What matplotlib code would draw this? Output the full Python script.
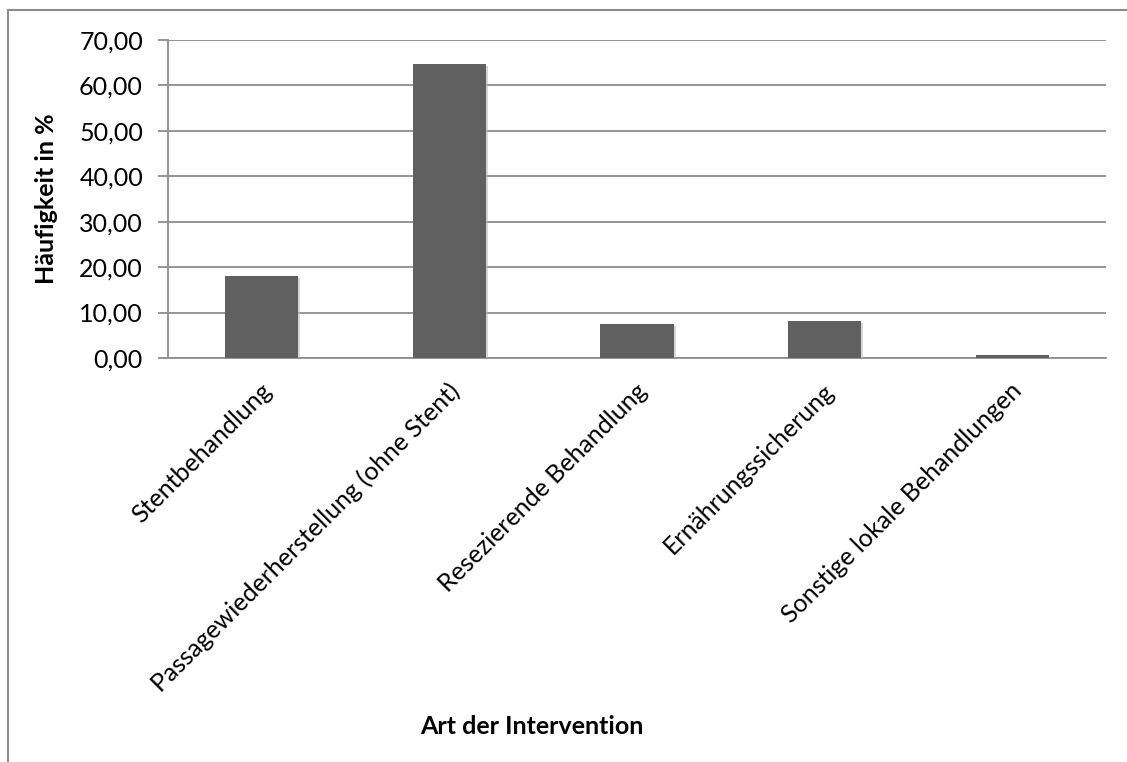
import matplotlib
matplotlib.use("Agg")
import matplotlib.pyplot as plt
import matplotlib.patheffects as pe
import matplotlib.transforms as mtransforms
from matplotlib.lines import Line2D
import numpy as np

categories = ["Stentbehandlung", "Passagewiederherstellung (ohne Stent)",
              "Resezierende Behandlung", "Ernährungssicherung",
              "Sonstige lokale Behandlungen"]
values = [18.0, 64.7, 7.4, 8.2, 0.7]
y_ticks = [0, 10, 20, 30, 40, 50, 60, 70]

plt.rcParams['font.family'] = ['Lato', 'DejaVu Sans']

W, H = 1127, 762
grey = "#8c8c8c"
fig = plt.figure(figsize=(W / 100, H / 100), dpi=100)
ax = fig.add_axes([168 / W, 1 - 358 / H, (1106 - 168) / W, (358 - 40) / H])

x = np.arange(len(categories))
bars = ax.bar(x, values, width=0.39, color="#606060", zorder=3)
for b in bars:
    b.set_path_effects([pe.SimplePatchShadow(offset=(1.5, -1.5), shadow_rgbFace="#bbbbbb", alpha=0.6),
                        pe.Normal()])

ax.set_xlim(-0.5, len(categories) - 0.5)
ax.set_ylim(0, 70)
ax.set_yticks(y_ticks)
ax.set_yticklabels([f"{v:.2f}".replace(".", ",") for v in y_ticks], fontsize=18)
ax.yaxis.grid(True, color=grey, linewidth=1.3, zorder=0)
ax.set_axisbelow(True)

ax.set_xticks(x)
ax.set_xticklabels(categories, rotation=45, ha="right", rotation_mode="anchor", fontsize=18)
ax.tick_params(axis="x", length=0, pad=15)
ax.tick_params(axis="y", length=7, width=1.3, color=grey, pad=11)
shift = mtransforms.ScaledTranslation(-2 / 100, 0, fig.dpi_scale_trans)
for lbl in ax.get_xticklabels():
    lbl.set_transform(lbl.get_transform() + shift)

for s in ["top", "right"]:
    ax.spines[s].set_visible(False)
for s in ["left", "bottom"]:
    ax.spines[s].set_color(grey)
    ax.spines[s].set_linewidth(1.3)

ax.set_ylabel("Häufigkeit in %", fontsize=18, fontweight="bold")
ax.yaxis.set_label_coords((58 - 168) / 938, 0.5)
fig.text(532 / W, 1 - 726 / H, "Art der Intervention", fontsize=18, fontweight="bold",
         ha="center", va="center")

# chart frame
fig.add_artist(Line2D([8 / W, 8 / W], [0, 1 - 10 / H], color=grey, linewidth=1.5))
fig.add_artist(Line2D([8 / W, 1], [1 - 10 / H, 1 - 10 / H], color=grey, linewidth=1.5))

fig.savefig("out.png", dpi=100)
